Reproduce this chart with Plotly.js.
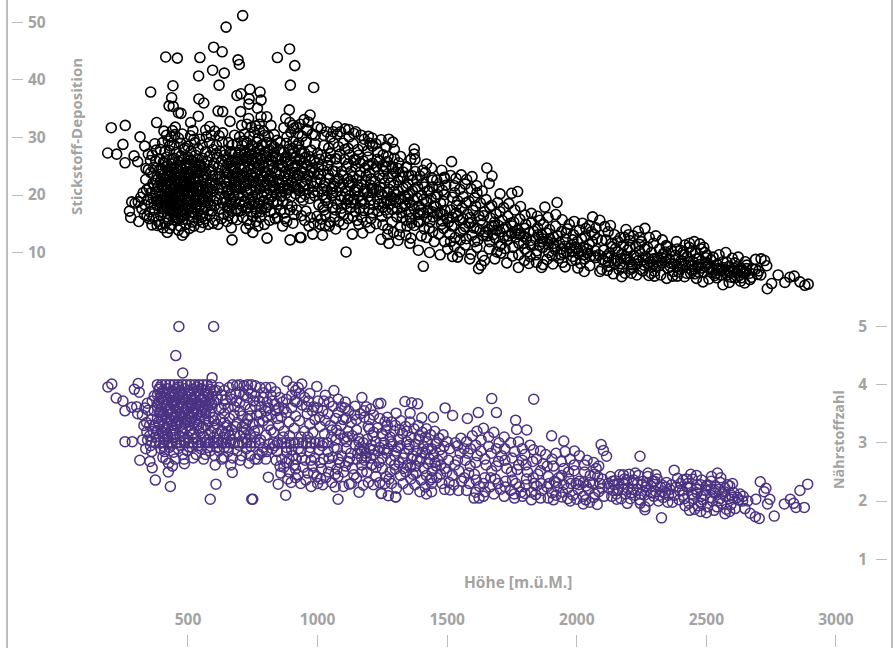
<!DOCTYPE html>
<html><head><meta charset="utf-8">
<script src="https://cdn.plot.ly/plotly-3.0.1.min.js"></script>
<style>html,body{margin:0;padding:0;background:#fff}</style></head>
<body><div id="chart" style="width:896px;height:648px"></div>
<script>
const depositionTicks=[10,20,30,40,50];
const nutrientTicks=[1,2,3,4,5];
const heightTicks=[500,1000,1500,2000,2500,3000];
const nitrogenOutliers=[[711,51.2],[647,49.2],[599,45.7],[632,44.9],[414,44],[459,43.8],[546,43.9],[693,43.5],[698,42.7],[845,43.9],[892,45.4],[912,42.5],[595,41.7],[640,41.2],[541,40.7],[442,39],[620,39.1],[895,39.1],[356,37.9],[689,37.3],[704,37.6],[739,38.4],[778,37.9],[782,36.5],[736,36.7],[735,35.8],[437,36.9],[542,36.7],[561,36],[427,35.5],[443,35.4],[463,34.3],[473,34.2],[616,34.6],[634,34.5],[703,34.5],[891,34.8],[662,32.8],[540,33.7],[734,33.3],[804,33.6],[379,32.6],[510,32.6],[204,31.7],[258,32.1],[315,30.1],[249,28.8],[333,28.5],[190,27.3],[225,27.1],[292,26.8],[257,25.6],[306,25.8],[377,27.8],[337,22.7],[350,21.2],[283,18.8],[296,18.6],[308,18.8],[274,17.2],[279,16.1],[310,15.4],[361,14.8],[420,13.5],[478,13],[486,13.5],[463,13.9],[667,14.3],[670,12.2],[750,13.5],[805,12.5],[894,12.2],[932,12.6],[875,15.9],[985,38.7],[971,33.9],[964,32.7],[1147,31],[1106,31.5],[1089,31],[1035,31],[1202,29],[1245,29.6],[1275,29.7],[1373,28],[1373,27.1],[1376,26.2],[1517,25.8],[1479,24.3],[1344,24.8],[1653,24.7],[1673,23.3],[1662,22],[1704,20.2],[1772,20.6],[1749,20.3],[1877,17.9],[1924,18.7],[1919,16.6],[1800,16.5],[1783,18],[1110,10.1],[1408,7.6],[1621,7.2],[1631,7.8],[1775,7.4],[1864,7.4],[2029,6.7],[936,12.6],[1019,13],[981,13.2],[1070,14.1],[1134,13.2],[1174,13.4],[1245,12.3],[1275,11.6],[1389,10.4],[1432,10],[1473,9.6],[1521,9.3],[1450,11.9],[2061,16.2],[2089,15.6],[2190,14],[2169,12.6],[2263,14.2],[2237,13.7],[2347,11],[2453,11.9],[2417,11.3],[2575,10],[2495,10],[2690,8.8],[2711,8.9],[2733,7.7],[2777,6.1],[2839,5.9],[2893,4.5],[2880,4.3],[2735,3.7],[2752,4.6],[2803,4.8],[2822,5.7],[2861,4.9],[2089,6.7],[2173,5.8],[2347,5.5],[2487,4.9],[2564,4.4],[2648,4.7]];
const nitrogenBlob=[[385,15.4],[412,15.1],[437,14.8],[455,15.6],[492,14.9],[516,15.3],[541,15.6],[567,15.9],[395,16.4],[421,16.2],[448,16.6],[473,16.1],[503,16.4],[528,16.7],[556,16.3],[585,16.6],[372,17.4],[401,17.6],[431,17.2],[461,17.7],[483,17.3],[512,17.6],[537,17.2],[566,17.8],[594,17.3],[622,17.6],[357,18.4],[382,18.2],[409,18.6],[438,18.3],[466,18.7],[495,18.2],[521,18.6],[548,18.3],[577,18.7],[604,18.2],[633,18.6],[366,19.4],[392,19.2],[419,19.6],[447,19.3],[474,19.7],[503,19.2],[532,19.6],[559,19.3],[586,19.7],[612,19.2],[641,19.5],[375,20.4],[401,20.2],[428,20.6],[456,20.3],[484,20.7],[512,20.2],[540,20.6],[568,20.3],[595,20.7],[623,20.2],[384,21.4],[410,21.2],[437,21.6],[465,21.3],[493,21.7],[521,21.2],[549,21.6],[577,21.3],[605,21.7],[633,21.2],[394,22.4],[420,22.2],[447,22.6],[474,22.3],[502,22.7],[530,22.2],[558,22.6],[586,22.3],[614,22.7],[640,22.3],[404,23.4],[431,23.2],[458,23.6],[485,23.3],[512,23.7],[539,23.2],[567,23.6],[595,23.3],[622,23.7],[398,24.5],[425,24.3],[452,24.7],[480,24.4],[507,24.8],[534,24.3],[561,24.7],[589,24.4],[616,24.8],[643,24.3],[408,25.5],[436,25.4],[463,25.8],[491,25.5],[518,25.9],[546,25.4],[574,25.8],[601,25.5],[629,25.9],[418,26.6],[446,26.4],[473,26.8],[501,26.5],[529,26.9],[556,26.4],[584,26.8],[612,26.5],[640,26.9],[429,27.7],[456,27.4],[484,27.9],[512,27.6],[540,28],[568,27.5],[596,27.9],[624,27.6],[446,28.7],[472,29],[499,28.5],[527,29.1],[555,28.7],[583,29.1],[610,28.6],[632,29.2],[435,30.1],[449,30.5],[463,29.9],[478,30.6],[510,30.3],[523,29.7],[590,30.4],[603,31.1],[620,30.3],[634,30.8],[440,31.2],[451,31.8],[568,31.3],[584,31.9],[356,23.9],[367,24.8],[376,25.9],[381,23.2],[391,26.2],[345,19.2],[333,18.3],[352,17.1],[342,16.4],[367,16.1],[381,14.7],[404,14.3],[430,14.2],[523,14.6],[549,14.4],[579,14.9],[604,15.6],[630,15.9],[616,14.9],[650,15.4],[355,26],[362,26.9],[411,27.6],[402,29.1],[424,29.4],[417,30.4],[430,28.6],[490,16.9],[470,19.1],[515,21.9],[440,20.1],[545,19.1],[465,22.9],[500,24],[430,18.9],[460,16.9],[530,17.9],[480,20.9],[420,20.9],[495,21.1],[450,18.1],[510,19],[470,23.6],[440,22.9],[525,23],[555,20.9],[455,24.9]];
const nitrogenBlobDense=[[443,16.9],[507,18.9],[417,17.9],[476,21.3],[533,20.9],[398,19.8],[459,20.7],[521,16.1],[488,23.1],[431,21.9],[563,18.8],[406,22.8],[497,19.9],[452,17.3],[541,22.9],[418,19.2],[473,17.1],[586,21],[436,24],[509,22.4],[388,20.8],[462,19.4],[527,19.2],[445,21.2],[571,22.1],[403,17.1],[481,18.4],[552,17.6],[425,23.7],[499,17.7],[517,24.4],[441,19.6],[469,25.1],[543,21.1],[393,18.7],[486,22.2],[575,19.8],[411,20.6],[457,23.1],[531,24.9],[422,16.8],[505,21.5],[449,22.1],[561,23.2],[478,16.6],[413,24.9],[535,18.4],[396,23.6],[493,25],[467,18.2],[599,19],[433,19.7],[549,25.1],[514,20.6],[384,18.9],[454,21.8],[583,24.1],[427,22.7],[489,19.4],[523,22.6],[407,19.1],[476,24.5],[557,19.6],[442,25.6],[501,20.4],[369,21.6],[537,19.9],[461,15.9],[416,18.2],[593,22],[483,21.9],[448,23.9],[526,25.6],[401,21.4],[468,20.1],[605,23.4],[434,17.6],[512,18.1],[579,17.3],[453,19.9],[491,23.9],[423,25.1],[545,23.9],[377,19.3],[506,25.4],[464,24.2],[437,18.6],[569,21.4],[415,21.7],[519,17.1],[481,15.8],[391,24.4],[553,24.2],[446,20.9],[496,22.9],[617,21.2],[428,17.4],[472,22.5],[534,21.6],[405,25.7],[458,18.7],[589,18.2],[511,23.1],[440,26.2],[486,26.3],[564,25.4],[378,22.6],[524,20.1],[451,16.1],[419,23.4],[500,18.5],[548,16.6],[474,26],[625,23.2],[394,17.9],[537,26.1],[463,21.1],[598,25],[432,20.4],[510,26.1],[574,20.6],[655,20.8],[649,23.1],[660,25.6],[644,27.7],[652,18.1],[638,16.7],[365,22.1],[347,24.4],[358,20.4],[340,20.9],[372,28.9],[394,27.9],[407,31.1],[488,28.2],[519,31.2],[545,29.7],[571,30.1],[609,27.2],[657,29.1],[425,15.6],[469,14.6],[506,14.2],[559,15.2],[597,15.1],[392,14.9],[350,15.9],[332,16.6],[322,17.6],[318,19.6],[327,20.4],[338,24.6],[347,27.1]];
const nitrogenWest=[[655,16.4],[672,15.9],[690,15.7],[712,16.1],[730,15.6],[751,16.3],[763,15.4],[778,16.1],[652,17.7],[668,17.2],[687,17.6],[705,17.3],[724,17.7],[743,17.1],[760,17.6],[781,17.1],[799,17.8],[817,17.1],[833,16.9],[845,16.1],[858,17.4],[872,16.9],[648,18.9],[664,18.6],[682,18.9],[699,18.5],[718,19],[737,18.4],[755,18.9],[773,18.5],[792,19],[810,18.4],[828,18.8],[846,18.4],[865,18.9],[884,18.4],[901,18],[920,17.4],[938,16.4],[955,17.2],[972,16.1],[658,20.1],[677,19.7],[695,20.2],[713,19.8],[731,20.3],[749,19.7],[768,20.2],[786,19.8],[805,20.3],[823,19.7],[841,20.2],[860,19.8],[878,20.3],[897,19.7],[915,20.2],[934,19.6],[952,20.1],[970,19.4],[988,19.9],[650,21.4],[668,21],[686,21.5],[705,21.1],[723,21.6],[741,21],[760,21.5],[779,21.1],[797,21.6],[816,21],[835,21.5],[853,21.1],[872,21.6],[890,21],[909,21.5],[927,21],[946,21.5],[964,21],[983,21.5],[660,22.6],[678,22.2],[697,22.7],[715,22.3],[734,22.8],[752,22.2],[771,22.7],[790,22.3],[808,22.8],[827,22.2],[846,22.7],[864,22.3],[883,22.8],[902,22.2],[920,22.7],[939,22.2],[957,22.7],[976,22.2],[652,23.8],[670,23.4],[689,23.9],[707,23.5],[726,24],[744,23.4],[763,23.9],[782,23.5],[800,24],[819,23.4],[838,23.9],[856,23.5],[875,24],[893,23.4],[912,23.9],[930,23.4],[949,23.9],[967,23.4],[986,23.9],[662,25],[681,24.7],[699,25.2],[718,24.8],[736,25.3],[755,24.7],[774,25.2],[792,24.8],[811,25.3],[830,24.7],[848,25.2],[867,24.8],[885,25.3],[904,24.7],[923,25.2],[941,24.7],[960,25.2],[979,24.7],[654,26.2],[673,26],[691,26.5],[710,26.1],[728,26.6],[747,26],[766,26.5],[784,26.1],[803,26.6],[822,26],[840,26.5],[859,26.1],[877,26.6],[896,26],[914,26.5],[933,26],[952,26.5],[970,26],[664,27.5],[683,27.3],[701,27.8],[720,27.4],[739,27.9],[757,27.3],[776,27.8],[795,27.4],[814,27.9],[833,27.3],[852,27.8],[871,27.4],[890,27.9],[910,27.3],[930,27.8],[950,27.3],[975,27.8],[672,28.7],[690,29],[709,28.6],[728,29.1],[746,28.6],[765,29.2],[784,28.6],[803,29.1],[822,28.7],[856,29.1],[880,29],[905,29.3],[927,29],[956,29.2],[990,28.9],[680,30.4],[699,30.1],[718,30.6],[737,30.2],[756,30.9],[775,31.3],[791,31.1],[810,30.2],[833,30.5],[882,30.1],[897,30.9],[909,31.6],[925,30.7],[941,30.2],[958,31.4],[980,30.6],[1000,31.8],[707,32.1],[728,32.3],[745,31.8],[760,32],[775,32.3],[905,32.1],[918,31.8],[933,32.3],[960,31.2]];
const nitrogenWestDense=[[703,23.1],[761,25.6],[818,22.4],[674,24.6],[732,19.4],[849,26.3],[791,23.2],[684,20.9],[907,23.1],[746,27.1],[825,25.9],[669,27.2],[774,18.1],[881,25.8],[719,21.9],[941,24.1],[797,26.9],[663,19.3],[837,20.9],[755,23.1],[694,26.9],[871,23.2],[803,17.9],[727,25.9],[918,21.4],[781,22.6],[654,25.4],[842,24.1],[709,18.1],[962,23.4],[768,28.2],[896,27.1],[679,21.7],[815,24.4],[737,22.4],[859,20.6],[788,25.6],[658,22.3],[929,26.2],[701,24.6],[832,28.4],[748,18.4],[888,23.7],[773,24.3],[988,25.9],[692,23.3],[805,21.9],[720,27.1],[944,19.1],[858,27.7],[763,20.9],[681,26],[823,23.1],[912,25.1],[733,26.6],[792,20.4],[973,24.1],[651,20.4],[866,21.1],[743,24.6],[903,28.1],[697,21.4],[838,26.7],[778,26.4],[951,21.9],[714,23.1],[884,20.9],[760,22.1],[997,22.3],[671,18.3],[809,27.7],[922,23.4],[726,20.6],[851,22.1],[785,17.6],[940,27.2],[689,25.7],[875,26.4],[750,26.2],[1000,27.2],[659,23.6],[828,21.4],[716,29.4],[899,22.2],[796,24.1],[968,26.7],[740,19.1],[843,18.9],[678,22.9],[931,20.7],[772,29.9],[860,25.1],[704,27.3],[982,20.4],[812,19.2],[753,28.4],[887,21.7],[667,25.9],[948,25.6],[826,26.6],[730,17.9],[893,17.4],[786,28.7],[844,29.5],[918,28.5],[1002,23.6],[764,16.9],[695,17.2],[836,15.9],[881,15.4],[910,16.6],[950,15.6],[985,15.1],[1010,14.9],[1030,14.7],[815,15.6],[738,14.9],[770,14.6],[795,14.9],[724,14.2],[865,14.6],[905,15.1],[967,14.6],[820,32.1],[782,33.6],[768,35.1],[795,30.4],[870,31.7],[893,32.6],[877,33.3],[948,33.1],[1014,31.6],[991,30.4]];
const nitrogenMiddle=[[998,16.3],[1014,15.8],[1031,16.5],[1049,15.3],[1066,16.2],[1083,15.4],[1101,16.6],[1118,15.9],[1136,16.3],[1153,15.6],[1171,16.1],[1188,15.3],[1206,15.9],[1226,15],[1252,14.8],[1271,14.1],[1293,13.5],[1316,13.1],[1341,13],[1360,12.5],[1005,18.3],[1021,17.9],[1040,18.6],[1058,17.8],[1075,18.4],[1092,17.7],[1110,18.5],[1128,17.8],[1145,18.4],[1163,17.7],[1180,18.5],[1198,17.6],[1216,18.3],[1235,17.2],[1252,17.9],[1270,16.9],[1288,17.5],[1306,16.2],[1324,16.9],[1342,15.6],[1358,15.9],[1374,14.7],[1393,15.3],[1412,14.1],[1431,14.2],[1002,20.6],[1019,20],[1037,20.8],[1055,19.9],[1072,20.6],[1090,19.8],[1107,20.7],[1125,19.9],[1143,20.6],[1160,19.8],[1178,20.6],[1195,19.7],[1213,20.4],[1231,19.3],[1248,20.1],[1266,19],[1284,19.7],[1302,18.7],[1320,19.3],[1337,18.1],[1355,18.7],[1373,17.6],[1391,18.1],[1409,16.9],[1427,17.4],[1445,16.2],[1463,16.8],[1481,15.5],[1499,15.9],[1011,22.7],[1028,22.1],[1046,22.9],[1064,22],[1081,22.8],[1098,21.9],[1116,22.8],[1134,22],[1151,22.7],[1169,21.8],[1187,22.6],[1204,21.7],[1222,22.4],[1240,21.4],[1258,22.1],[1276,21],[1294,21.7],[1312,20.6],[1330,21.2],[1348,20],[1366,20.7],[1384,19.5],[1402,20],[1420,18.8],[1438,19.4],[1456,18],[1474,18.6],[1492,17.3],[1004,24.9],[1022,24.3],[1040,25.1],[1058,24.2],[1075,25],[1093,24.1],[1111,24.9],[1129,24.1],[1147,24.9],[1165,24],[1183,24.7],[1201,23.8],[1219,24.4],[1237,23.4],[1255,24.1],[1273,23],[1291,23.7],[1310,22.6],[1329,23.2],[1348,22],[1367,22.6],[1386,21.4],[1405,22],[1424,20.7],[1443,21.4],[1462,20.1],[1482,20.8],[1014,27],[1032,26.5],[1050,27.2],[1068,26.3],[1086,27.1],[1104,26.2],[1122,27],[1140,26.1],[1158,26.9],[1176,25.9],[1194,26.6],[1212,25.5],[1231,26.2],[1250,25.1],[1269,25.8],[1289,24.9],[1310,24.6],[1330,24],[1352,23.4],[1395,23.3],[1416,23.9],[1440,23],[1460,22.6],[1024,28.6],[1043,28.2],[1062,29],[1080,28.4],[1099,29],[1118,28.1],[1137,28.9],[1156,27.9],[1175,28.6],[1194,27.7],[1212,28.5],[1232,27.5],[1253,27],[1272,26.7],[1296,26.4],[1024,30.4],[1051,30.1],[1060,31],[1076,30.6],[1122,30.1],[1140,30.7],[1180,29.7],[1210,29.9],[1296,27.9]];
const nitrogenMiddleDense=[[1098,23.4],[1216,21.1],[1034,19.6],[1147,17.1],[1263,24.9],[1342,21.4],[1073,26.3],[1188,23.4],[1295,19.4],[1409,19.2],[1125,21.6],[1012,23.6],[1237,18.4],[1352,17.1],[1449,18.1],[1164,25.6],[1056,21.1],[1281,22.1],[1383,22.6],[1090,16.9],[1204,19.1],[1320,23.1],[1472,16.9],[1025,17.4],[1137,23.2],[1250,22.9],[1371,19.1],[1431,20.7],[1183,21],[1308,17.6],[1067,24.1],[1396,16.8],[1117,19.2],[1226,24.9],[1336,19.9],[1486,18.9],[1008,26.2],[1155,21.4],[1270,20.4],[1363,23.4],[1084,21.4],[1212,16.9],[1327,16.1],[1445,22.6],[1041,23.6],[1172,19.1],[1288,24.6],[1413,21.4],[1105,27.9],[1239,25.9],[1355,20.2],[1489,20.1],[1023,21.6],[1147,26.1],[1262,17.4],[1387,15.4],[1069,17.4],[1195,25.2],[1302,23.9],[1457,19.6],[1129,18.7],[1248,16.3],[1377,24.1],[1049,26.1],[1161,23.4],[1294,20.6],[1420,16.1],[1088,19.1],[1207,22.8],[1342,24.9],[1119,25.4],[1226,20.9],[1362,15.1],[1017,25.3],[1178,17.3],[1279,18.4],[1406,24.3],[1059,20.4],[1140,19.2],[1313,25.6],[1468,21.4],[1100,14.9],[1159,14.9],[1202,14.3],[1287,15.3],[1320,14.4],[1345,14.6],[1400,12.9],[1421,12.6],[1444,13.6],[1467,13.2],[1490,11.9],[1486,14.2],[1356,11.6],[1310,12.1],[1270,13.1],[1045,14.6],[1225,28.9],[1265,28.4],[1320,26.7],[1360,26.2],[1420,25.4],[1440,24.7],[1490,22.9],[1290,29.2],[1168,30.4],[1196,30.2],[1120,31.4],[1075,31.9]];
const nitrogenEast=[[1502,10.6],[1528,11.1],[1549,10.1],[1570,11.3],[1592,9.7],[1615,10.9],[1636,9.4],[1662,10.6],[1684,8.9],[1707,9.9],[1730,8.2],[1752,9.4],[1798,8.6],[1820,9.3],[1844,8.3],[1885,8.8],[1908,8],[1931,9],[1955,7.5],[1980,8.6],[2004,7.3],[1510,13.2],[1531,12.6],[1552,13.5],[1574,12.4],[1596,13],[1618,12.1],[1640,12.9],[1664,11.9],[1686,12.5],[1709,11.4],[1731,12.1],[1754,10.9],[1777,11.6],[1800,10.6],[1823,11.3],[1846,10.3],[1869,10.9],[1892,10],[1915,10.6],[1938,9.6],[1961,10.2],[1984,9.3],[2007,9.9],[2030,8.9],[2053,9.4],[1505,15.3],[1527,14.7],[1548,15.6],[1570,14.5],[1592,15.2],[1614,14.2],[1636,15],[1659,14],[1681,14.7],[1704,13.6],[1726,14.4],[1749,13.3],[1772,13.9],[1795,12.8],[1818,13.5],[1841,12.4],[1864,13.1],[1887,12],[1910,12.7],[1933,11.7],[1956,12.3],[1979,11.3],[2002,11.9],[2025,10.9],[2048,11.4],[2071,10.3],[1513,17.4],[1535,16.9],[1556,17.7],[1578,16.7],[1600,17.3],[1622,16.4],[1644,17.1],[1667,16],[1689,16.7],[1712,15.6],[1734,16.3],[1757,15.3],[1780,15.8],[1803,14.9],[1826,15.3],[1849,14.3],[1872,14.9],[1895,14],[1918,14.6],[1941,13.6],[1964,14.1],[1987,13.1],[2010,13.9],[2033,12.8],[2056,13.6],[2079,12.4],[1520,19.6],[1541,19],[1562,19.7],[1584,18.9],[1606,19.5],[1628,18.6],[1650,19.2],[1672,18.2],[1695,18.7],[1718,17.8],[1738,18.5],[1761,17.4],[1825,16.8],[1848,16.3],[1889,16.1],[1944,15.7],[1990,15.4],[2022,15.1],[2048,14.7],[2074,14.3],[1528,21.6],[1549,21],[1570,21.9],[1592,21.1],[1614,21.6],[1635,20.7],[1513,23.4],[1534,22.9],[1554,23.5],[1575,22.7],[1596,23.2],[1495,21.7],[1489,23.1]];
const nitrogenEastDense=[[1563,14.1],[1677,13.1],[1795,11.6],[1912,11.1],[2019,10.3],[1521,16.1],[1640,16.4],[1752,14.6],[1868,12.4],[1985,12.2],[1606,11.9],[1717,12.6],[1834,13.7],[1950,9.9],[2060,11.9],[1536,18.2],[1655,12.9],[1766,12.7],[1883,13.4],[1999,10.6],[1589,16.1],[1698,14.7],[1809,10.1],[1927,12.9],[2041,10.6],[1513,11.9],[1627,13.9],[1745,15.1],[1856,11.3],[1973,10.8],[1572,18.6],[1683,15.3],[1800,14.2],[1905,9.4],[2018,12.4],[1551,12.2],[1664,17.9],[1723,10.7],[1843,9.6],[1959,13.4],[2068,9.4],[1610,18.1],[1703,11.1],[1776,9.6],[1890,11.4],[1996,8.7],[1540,9.2],[1587,8.9],[1644,8.6],[1692,10.1],[1815,8.1],[1870,7.9],[1945,8.3],[2015,8.1],[2050,7.7],[1529,20.4],[1615,20.4],[1704,17.1],[1781,13.1],[1858,15.6],[1971,14.9],[2035,14.2],[2068,13.1]];
const nitrogenBandCentre=[[1018,21.1],[1062,21.6],[1104,19.6],[1150,20.9],[1192,20.4],[1238,20.6],[1281,19.1],[1327,17.9],[1365,18.2],[1398,17.4],[1442,17.1],[1486,16.6],[1031,19.1],[1076,22.4],[1121,22.3],[1166,18.9],[1209,21.1],[1256,18.7],[1302,20.1],[1349,19.3],[1388,16.6],[1434,15.4],[1478,14.9],[1518,14.6],[1561,15.9],[1603,14.3],[1648,13.6],[1691,13.9],[1736,12.9],[1779,13.3],[1822,12.1],[1867,11.9],[1911,11.6],[1954,11.1],[1996,10.9],[2041,9.9],[2085,9.6],[2122,9.1],[2169,8.9],[2207,8.4],[2256,8.7],[2295,7.9],[2342,8.4],[2388,7.6],[2431,8.4],[2472,7.9],[2519,7.4],[2563,7.1],[2604,6.9],[2646,6.4],[1541,16.4],[1583,15.1],[1629,15.6],[1672,14.6],[1718,14.1],[1762,13.4],[1806,12.4],[1851,13.1],[1896,12.4],[1940,10.6],[1982,10.1],[2026,9.6],[2072,9.1],[2110,8.4],[2148,8.1],[2194,9.1],[2232,8],[2276,8.9],[2318,8.6],[2364,8.1],[2409,7.6],[2454,7.1],[2497,7.6],[2541,6.9],[2587,6.6],[2629,6.9]];
const nitrogenFarEast=[[2096,7.1],[2118,6.9],[2141,6.3],[2163,7],[2186,6.4],[2209,7.1],[2232,6.1],[2255,6.8],[2278,6],[2301,6.7],[2324,6.1],[2370,5.9],[2393,6.6],[2416,5.8],[2439,6.4],[2462,5.5],[2510,5.4],[2533,6],[2588,4.8],[2610,5.6],[2632,5],[2668,5.3],[2100,8.8],[2122,8.3],[2145,9],[2168,8.1],[2191,8.8],[2214,7.9],[2237,8.6],[2260,7.8],[2283,8.4],[2306,7.6],[2329,8.2],[2352,7.3],[2375,8],[2398,7.1],[2421,7.8],[2444,6.9],[2467,7.5],[2490,6.6],[2513,7.2],[2536,6.4],[2559,6.9],[2582,6.1],[2605,6.7],[2628,6],[2651,6.5],[2674,5.7],[2697,6.2],[2104,10.4],[2127,9.9],[2150,10.7],[2173,9.7],[2196,10.4],[2219,9.5],[2242,10.2],[2265,9.3],[2288,10],[2311,9.1],[2334,9.8],[2357,8.9],[2380,9.5],[2403,8.6],[2426,9.3],[2449,8.4],[2472,9],[2495,8.1],[2518,8.7],[2541,7.9],[2564,8.4],[2587,7.6],[2610,8.2],[2633,7.3],[2656,7.8],[2679,7.1],[2702,6.8],[2112,12.2],[2135,11.6],[2158,12],[2181,11.3],[2204,12.1],[2227,11.1],[2250,11.9],[2273,10.9],[2296,11.6],[2319,10.6],[2342,10.1],[2365,10.3],[2388,10.6],[2411,10.1],[2434,10.9],[2457,9.9],[2480,10.6],[2503,9.5],[2526,9.2],[2549,9.6],[2600,9],[2623,9.2],[2650,8.4],[2121,13.6],[2145,13.1],[2200,13.1],[2218,12.9],[2243,12.6],[2280,12.6],[2305,12.9],[2330,12.2],[2385,11.9],[2435,11.6],[2475,11.5],[2108,14.5],[2130,14.7]];
const nitrogenFarEastDense=[[2153,8.6],[2231,9.1],[2319,7.7],[2405,8.1],[2483,7.3],[2562,7.4],[2640,6.9],[2116,9.4],[2204,10.9],[2287,6.4],[2371,6.7],[2455,6.3],[2540,5.6],[2618,6.4],[2177,7.4],[2262,10.6],[2346,9.1],[2424,6.4],[2505,8.2],[2585,6.9],[2668,6.4],[2136,11],[2214,7.4],[2296,8.9],[2380,8.6],[2462,8.9],[2545,7.2],[2610,7.2],[2096,12.1],[2187,9.3],[2245,7.1],[2328,9.1],[2412,9.6],[2498,9.1],[2580,8.3],[2655,7.2],[2158,10.1],[2272,8.1],[2360,7.6],[2445,7.6],[2520,6.5],[2595,5.7],[2690,7.1],[2125,7.6],[2211,6.4],[2300,5.9],[2388,5.9],[2470,6.6],[2555,6.1],[2635,5.6],[2710,6.1],[2185,12.6],[2242,11.4],[2345,11.2],[2400,10.4],[2490,10.9],[2440,10.1],[2725,8.6]];
const nutrientOutliers=[[465,5],[599,5],[453,4.5],[480,4.2],[191,3.96],[206,4.01],[293,3.92],[308,4.02],[312,3.87],[223,3.77],[249,3.72],[257,3.55],[283,3.61],[302,3.62],[306,3.5],[343,3.68],[341,3.19],[257,3.02],[285,3.02],[314,2.7],[360,2.85],[353,2.68],[362,2.57],[374,2.36],[432,2.25],[424,2.5],[486,2.64],[608,2.29],[586,2.03],[746,2.03],[750,2.03],[671,2.49],[810,2.41],[848,2.29],[877,2.1],[858,2.48],[975,2.25],[1068,2.24],[1079,2.03],[1079,2.42],[1122,2.29],[1176,2.27],[1196,2.32],[1245,2.13],[1273,2.09],[1302,2.07],[881,4.06],[939,4.01],[997,3.97],[1063,3.9],[1171,3.78],[1234,3.67],[1188,3.62],[1107,3.7],[1145,3.63],[593,4.12],[1672,3.76],[1834,3.75],[1690,3.52],[1492,3.6],[1521,3.47],[1620,3.52],[1578,3.42],[1764,3.39],[1768,3.23],[1807,3.22],[1903,3.12],[1950,3.03],[1775,3.02],[1631,3.05],[2094,2.97],[2103,2.87],[2115,2.77],[1991,2.86],[1955,2.85],[1820,2.96],[1833,2.88],[1337,3.71],[1363,3.69],[1386,3.67],[1357,3.51],[1402,3.43],[1447,3.44],[1269,3.44],[1303,3.51],[1244,3.68],[1604,2.05],[1623,2.05],[1890,2.05],[1440,2.16],[1301,2.07],[1247,2.13],[2025,1.95],[2079,1.94],[2154,2.03],[1646,2.16],[1508,2.32],[1543,2.18],[1511,2.19],[1759,2.12],[1800,2.13],[1842,2.11],[1942,2.07],[2891,2.29],[2861,2.18],[2824,2.03],[2801,1.95],[2837,1.96],[2846,1.89],[2878,1.89],[2762,1.74],[2704,1.7],[2689,1.73],[2669,1.79],[2708,2.33],[2730,2.22],[2723,2.16],[2745,2.03],[2736,1.95],[2691,2.03],[2611,1.87],[2649,1.87],[2601,2.3],[2543,2.48],[2462,2.44],[2376,2.53],[2389,2.39],[2244,2.77],[2327,1.71],[2263,1.85],[2263,1.9],[2305,2.45]];
const nutrientBlock=[[382,4],[398,4],[414,4],[430,4],[446,4],[462,4],[478,4],[494,4],[510,4],[526,4],[542,4],[558,4],[574,4],[590,4],[388,3.92],[404,3.9],[421,3.93],[438,3.9],[454,3.92],[471,3.9],[487,3.93],[503,3.9],[520,3.92],[536,3.9],[552,3.93],[568,3.9],[585,3.92],[598,3.9],[382,3.82],[398,3.8],[414,3.83],[431,3.8],[447,3.82],[463,3.8],[479,3.83],[496,3.8],[512,3.82],[528,3.8],[544,3.83],[560,3.8],[576,3.82],[592,3.8],[389,3.72],[405,3.7],[422,3.73],[438,3.7],[454,3.72],[470,3.7],[487,3.73],[503,3.7],[519,3.72],[535,3.7],[552,3.73],[568,3.7],[584,3.72],[600,3.7],[382,3.62],[398,3.6],[414,3.63],[431,3.6],[447,3.62],[463,3.6],[479,3.63],[496,3.6],[512,3.62],[528,3.6],[544,3.63],[560,3.6],[576,3.62],[592,3.6],[389,3.52],[405,3.5],[422,3.53],[438,3.5],[454,3.52],[470,3.5],[487,3.53],[503,3.5],[519,3.52],[535,3.5],[552,3.53],[568,3.5],[584,3.52],[382,3.42],[398,3.4],[414,3.43],[431,3.4],[447,3.42],[463,3.4],[479,3.43],[496,3.4],[512,3.42],[528,3.4],[544,3.42],[568,3.41],[600,3.38],[389,3.31],[405,3.3],[422,3.33],[438,3.3],[454,3.32],[470,3.3],[487,3.33],[503,3.29],[535,3.31],[570,3.3],[610,3.32],[382,3.21],[398,3.2],[414,3.22],[431,3.19],[447,3.21],[479,3.2],[510,3.21],[543,3.2],[589,3.19],[630,3.21],[389,3.11],[405,3.1],[422,3.12],[447,3.09],[470,3.11],[500,3.1],[530,3.09],[560,3.11],[600,3.1],[638,3.09],[375,3],[391,3],[407,3],[423,3],[439,3],[455,3],[471,3],[487,3],[503,3],[519,3],[535,3],[551,3],[567,3],[583,3],[599,3],[615,3],[631,3],[647,3],[663,3],[679,3],[695,3],[711,3],[727,3],[743,3],[759,3],[775,3],[360,3.4],[352,3.3],[346,3.56],[362,3.72],[370,3.81],[352,3.12],[358,3.02],[344,3.05],[366,3.2]];
const nutrientBlockDense=[[391,3.95],[427,3.86],[463,3.96],[499,3.85],[534,3.96],[572,3.85],[406,3.76],[444,3.68],[482,3.77],[517,3.66],[555,3.76],[593,3.66],[385,3.67],[420,3.56],[458,3.66],[492,3.56],[530,3.67],[566,3.56],[402,3.46],[437,3.37],[474,3.46],[509,3.36],[546,3.47],[581,3.37],[386,3.36],[421,3.26],[457,3.36],[491,3.25],[525,3.36],[559,3.27],[596,3.44],[405,3.17],[441,3.14],[476,3.25],[515,3.14],[551,3.25],[584,3.14],[626,3.4],[376,3.1],[412,3.05],[451,3.15],[486,3.05],[521,3.17],[575,3.05],[613,3.16],[418,3.66],[469,3.84],[512,3.75],[548,3.66],[393,3.85],[435,3.78],[477,3.52],[523,3.5],[541,3.3],[395,3.52],[455,3.45],[505,3.45],[600,3.25],[618,3.05],[642,3.15],[656,3.2],[628,3.6],[614,3.75],[620,3.95],[640,3.9],[370,3.55],[372,3.3],[355,2.95],[340,3.35],[334,3.6],[324,3.48],[330,3.3],[325,3.05],[337,2.9]];
const nutrientWest=[[610,3.9],[630,3.82],[645,3.74],[658,3.95],[672,4],[688,3.99],[700,4],[716,3.98],[730,4],[745,4],[760,3.98],[778,3.95],[800,3.95],[820,3.95],[838,3.88],[655,3.6],[670,3.75],[685,3.84],[700,3.87],[715,3.82],[730,3.78],[745,3.85],[760,3.8],[775,3.72],[790,3.78],[805,3.7],[820,3.82],[835,3.66],[850,3.6],[865,3.7],[880,3.75],[900,3.82],[915,3.9],[930,3.85],[950,3.78],[965,3.72],[985,3.62],[620,3.58],[640,3.5],[660,3.42],[680,3.62],[700,3.55],[720,3.65],[740,3.58],[760,3.63],[780,3.5],[800,3.55],[820,3.48],[840,3.55],[860,3.45],[880,3.52],[900,3.6],[920,3.7],[940,3.65],[960,3.5],[980,3.55],[1000,3.6],[1020,3.55],[1040,3.5],[1060,3.63],[1080,3.52],[650,3.3],[670,3.22],[690,3.35],[710,3.28],[730,3.4],[750,3.32],[770,3.22],[790,3.38],[810,3.3],[830,3.18],[850,3.3],[870,3.2],[890,3.36],[910,3.25],[930,3.38],[950,3.2],[970,3.32],[990,3.4],[1010,3.28],[1030,3.38],[1050,3.3],[1070,3.42],[1090,3.3],[1110,3.42],[1130,3.35],[640,2.92],[660,3.12],[680,3.15],[700,3.12],[720,3.08],[740,3.14],[760,3.1],[780,3.05],[800,3.13],[815,2.98],[830,3],[846,3],[862,3],[878,3],[894,3],[910,3],[926,3],[942,3],[958,3],[974,3],[990,3],[1006,3],[1022,3],[1038,3],[1054,3.1],[1070,3.05],[1086,3.15],[1102,3.08],[1118,3.2],[1134,3.12],[1150,3.22],[395,2.9],[410,2.85],[428,2.92],[445,2.84],[462,2.9],[480,2.8],[498,2.86],[516,2.92],[532,2.8],[550,2.9],[568,2.8],[585,2.86],[603,2.78],[620,2.86],[638,2.75],[655,2.85],[672,2.74],[690,2.86],[707,2.78],[725,2.9],[740,2.78],[758,2.72],[775,2.8],[790,2.92],[803,2.85],[825,2.9],[845,2.85],[862,2.72],[880,2.84],[900,2.88],[918,2.72],[935,2.85],[952,2.7],[970,2.84],[988,2.74],[1005,2.88],[1023,2.72],[1040,2.85],[1058,2.75],[1076,2.9],[1093,2.78],[1110,2.9],[1128,2.82],[1146,2.96],[1163,2.9],[403,2.75],[425,2.65],[440,2.6],[870,2.58],[890,2.5],[908,2.62],[925,2.45],[945,2.58],[962,2.48],[980,2.6],[998,2.42],[1015,2.55],[1032,2.4],[1050,2.62],[1068,2.46],[1085,2.66],[1100,2.5],[1118,2.68],[1135,2.56],[1152,2.72],[1170,2.62],[1188,2.76],[898,2.32],[915,2.4],[1000,2.3],[1020,2.28],[1100,2.25],[1150,2.4],[1190,2.5],[1210,2.62],[1225,2.42],[1240,2.32]];
const nutrientWestDense=[[688,3.72],[731,3.91],[664,3.83],[709,3.46],[752,3.72],[793,3.86],[678,3.48],[722,3.33],[766,3.48],[811,3.6],[854,3.78],[640,3.66],[699,3.69],[739,3.46],[783,3.62],[826,3.72],[871,3.58],[912,3.72],[958,3.62],[1002,3.72],[1045,3.7],[1092,3.62],[668,3.05],[714,3.18],[756,3.2],[803,3.44],[846,3.42],[892,3.12],[936,3.1],[982,3.18],[1027,3.15],[1073,3.22],[1115,3.1],[1158,3.08],[640,3.35],[682,3.28],[725,3.22],[775,3.36],[820,3.22],[868,3.1],[915,3.46],[962,3.1],[1008,3.44],[1056,3.22],[1099,3.4],[1142,3.48],[655,2.92],[697,2.96],[742,2.94],[786,2.84],[835,2.95],[880,2.92],[926,2.9],[972,2.92],[1018,2.95],[1064,2.92],[1112,3.02],[1155,2.82],[612,2.92],[575,2.92],[540,2.95],[505,2.93],[470,2.96],[435,2.96],[405,2.94],[630,2.72],[665,2.62],[702,2.7],[735,2.65],[768,2.72],[605,2.62],[560,2.72],[520,2.74],[485,2.72],[450,2.72],[415,2.72],[800,2.72],[840,2.7],[855,2.6],[890,2.72],[905,2.78],[940,2.74],[975,2.7],[1010,2.66],[1044,2.73],[1080,2.72],[1124,2.74],[1170,2.74],[1180,2.9],[1205,2.74],[1215,2.88],[880,2.66],[915,2.55],[935,2.3],[955,2.36],[985,2.48],[1012,2.38],[1042,2.5],[1075,2.55],[1108,2.6],[1140,2.45],[1172,2.5],[885,2.38],[1055,2.32],[1130,2.3],[1160,2.15],[1215,2.28],[1260,2.3],[1180,3.55],[1205,3.58],[1165,3.5],[1120,3.55],[1150,3.4],[1105,3.6],[1024,3.72],[1030,3.82],[970,3.85],[925,3.95],[905,3.96],[1080,3.75]];
const nutrientMiddle=[[1160,3.02],[1176,3],[1192,3.06],[1208,2.96],[1224,3.02],[1240,2.92],[1256,3],[1272,2.9],[1288,2.98],[1304,2.86],[1320,2.95],[1336,2.82],[1352,2.9],[1368,2.78],[1384,2.86],[1400,2.74],[1416,2.82],[1432,2.72],[1448,2.8],[1464,2.7],[1480,2.78],[1170,2.86],[1186,2.82],[1202,2.9],[1218,2.8],[1234,2.86],[1250,2.74],[1266,2.82],[1282,2.7],[1298,2.78],[1314,2.66],[1330,2.74],[1346,2.62],[1362,2.72],[1378,2.6],[1394,2.68],[1410,2.56],[1426,2.64],[1442,2.52],[1458,2.6],[1474,2.46],[1490,2.56],[1200,3.24],[1216,3.18],[1232,3.26],[1248,3.16],[1264,3.22],[1280,3.1],[1296,3.2],[1312,3.06],[1328,3.16],[1344,3.02],[1360,3.1],[1376,2.98],[1392,3.06],[1408,2.94],[1424,3.02],[1440,2.9],[1456,2.98],[1472,2.88],[1488,2.94],[1180,3.44],[1200,3.4],[1216,3.48],[1240,3.42],[1260,3.36],[1285,3.36],[1300,3.3],[1322,3.38],[1340,3.28],[1356,3.36],[1372,3.24],[1388,3.3],[1404,3.18],[1420,3.24],[1436,3.14],[1452,3.2],[1468,3.08],[1484,3.14],[1500,3.02],[1280,2.5],[1300,2.55],[1320,2.44],[1340,2.5],[1360,2.38],[1380,2.48],[1400,2.36],[1420,2.44],[1440,2.3],[1460,2.4],[1480,2.3],[1250,2.56],[1265,2.42],[1285,2.3],[1305,2.22],[1330,2.3],[1350,2.2],[1375,2.28],[1395,2.16],[1415,2.24],[1420,2.12],[1490,2.2],[1530,2.62],[1550,2.82],[1570,2.7],[1590,2.9],[1610,2.66],[1630,2.86],[1650,2.62],[1670,2.82],[1690,2.6],[1710,2.78],[1730,2.56],[1750,2.74],[1770,2.54],[1790,2.7],[1810,2.5],[1830,2.68],[1850,2.46],[1870,2.64],[1890,2.42],[1910,2.6],[1930,2.4],[1950,2.56],[1970,2.38],[1990,2.52],[2010,2.34],[2030,2.5],[2050,2.32],[2070,2.46],[2090,2.3],[1510,2.9],[1532,3],[1553,3.08],[1575,3.02],[1597,3.12],[1615,3.2],[1640,3.25],[1660,3.1],[1680,3.18],[1700,3],[1722,2.9],[1745,3],[1790,2.9],[1860,2.86],[1880,2.8],[1920,2.82],[1975,2.72],[2010,2.78],[2040,2.7],[2065,2.66],[2085,2.6],[1520,2.44],[1545,2.52],[1565,2.4],[1585,2.3],[1605,2.46],[1625,2.25],[1645,2.4],[1665,2.24],[1685,2.38],[1705,2.2],[1725,2.34],[1745,2.18],[1765,2.3],[1785,2.15],[1805,2.28],[1825,2.15],[1845,2.26],[1865,2.18],[1885,2.24],[1905,2.14],[1925,2.24],[1945,2.15],[1965,2.22],[1985,2.1],[2005,2.2],[2025,2.08],[2045,2.2],[2065,2.06],[2085,2.16],[2105,2.08],[1910,2.02],[1975,2],[2000,2.03],[2050,1.98],[2120,2.3],[2140,2.18]];
const nutrientMiddleDense=[[1213,3.12],[1283,3.02],[1353,2.97],[1426,2.9],[1237,2.66],[1310,2.92],[1384,2.72],[1453,2.66],[1181,2.7],[1258,2.88],[1331,2.56],[1405,2.84],[1475,2.62],[1195,3.28],[1269,3.3],[1345,3.2],[1416,3.1],[1226,2.58],[1297,2.62],[1368,2.46],[1441,2.4],[1498,2.5],[1252,3.12],[1318,3.22],[1392,3.12],[1460,3],[1208,2.62],[1276,2.38],[1358,2.58],[1434,2.36],[1505,2.7],[1540,2.7],[1565,2.9],[1589,2.6],[1616,2.78],[1645,2.72],[1672,2.52],[1698,2.68],[1723,2.7],[1748,2.5],[1776,2.62],[1804,2.62],[1832,2.4],[1860,2.52],[1886,2.6],[1914,2.34],[1942,2.44],[1968,2.5],[1997,2.3],[2026,2.32],[2052,2.44],[2081,2.42],[1526,2.28],[1556,2.34],[1583,2.48],[1612,2.36],[1640,2.3],[1668,2.4],[1696,2.3],[1724,2.24],[1752,2.36],[1778,2.24],[1806,2.38],[1835,2.3],[1862,2.3],[1893,2.3],[1921,2.32],[1950,2.28],[1978,2.3],[2007,2.28],[2036,2.26],[2062,2.3],[2098,2.22],[1575,2.18],[1610,2.15],[1640,2.08],[1680,2.12],[1720,2.08],[1760,2.05],[1790,2.08],[1825,2.02],[1860,2.05],[1920,2.1],[1965,2.04],[2035,2.02],[2070,2.12],[2098,2.38],[1540,2.95],[1580,2.82],[1610,2.96],[1660,2.94],[1690,2.9],[1720,3.1],[1760,2.85],[1800,2.8],[1845,2.72],[1905,2.72],[1940,2.68],[1990,2.62],[2030,2.62],[2075,2.56]];
const nutrientEast=[[2130,2.42],[2148,2.35],[2166,2.45],[2184,2.38],[2202,2.46],[2220,2.36],[2238,2.44],[2256,2.34],[2274,2.42],[2292,2.34],[2310,2.38],[2328,2.28],[2346,2.32],[2125,2.22],[2143,2.28],[2161,2.2],[2179,2.3],[2197,2.22],[2215,2.3],[2233,2.2],[2251,2.28],[2269,2.18],[2287,2.26],[2305,2.16],[2323,2.24],[2341,2.14],[2359,2.2],[2377,2.1],[2395,2.02],[2135,2.08],[2153,2.12],[2171,2.04],[2189,2.12],[2207,2.04],[2225,2.1],[2243,2.02],[2261,2.1],[2279,2],[2297,2.08],[2315,2],[2333,2.06],[2351,1.98],[2369,1.98],[2195,1.96],[2245,1.96],[2410,2.36],[2428,2.3],[2446,2.38],[2464,2.28],[2482,2.36],[2500,2.26],[2518,2.34],[2536,2.24],[2554,2.32],[2572,2.22],[2590,2.26],[2408,2.18],[2426,2.24],[2444,2.12],[2462,2.2],[2480,2.08],[2498,2.18],[2516,2.06],[2534,2.14],[2552,2.04],[2570,2.16],[2588,2.04],[2606,2.14],[2624,2.02],[2642,2.08],[2660,2],[2415,2.04],[2433,1.96],[2451,2.04],[2469,1.92],[2487,2.02],[2505,1.9],[2523,2],[2541,1.9],[2559,1.96],[2577,1.86],[2595,1.94],[2435,1.84],[2455,1.86],[2478,1.82],[2500,1.8],[2530,1.84],[2572,1.78],[2590,1.82]];
const nutrientEastDense=[[2163,2.3],[2218,2.2],[2272,2.3],[2330,2.16],[2384,2.24],[2438,2.24],[2493,2.1],[2548,2.2],[2600,2.06],[2138,2.34],[2192,2.36],[2246,2.12],[2300,2.34],[2354,2.1],[2410,2.1],[2464,2.14],[2518,2.2],[2574,2.08],[2630,2.12],[2156,2.18],[2210,2.14],[2266,2.24],[2320,2.1],[2366,2.28],[2422,2.38],[2478,2.28],[2530,2.14],[2582,2.28],[2620,2.06],[2178,2.2],[2234,2.3],[2288,2.14],[2342,2.24],[2396,2.18],[2450,2.1],[2505,2.28],[2560,2.12],[2640,2],[2180,2.45],[2226,2.48],[2275,2.48],[2400,2.3],[2440,2.46],[2520,2.42],[2556,2.4],[2480,1.96],[2545,2],[2418,1.92],[2595,2.1]];

const asX=p=>p.map(v=>v[0]), asY=p=>p.map(v=>v[1]);
const nitrogen=[...nitrogenOutliers,...nitrogenBlob,...nitrogenBlobDense,...nitrogenWest,...nitrogenWestDense,...nitrogenMiddle,...nitrogenMiddleDense,...nitrogenEast,...nitrogenEastDense,...nitrogenBandCentre,...nitrogenFarEast,...nitrogenFarEastDense];
const nutrient=[...nutrientOutliers,...nutrientBlock,...nutrientBlockDense,...nutrientWest,...nutrientWestDense,...nutrientMiddle,...nutrientMiddleDense,...nutrientEast,...nutrientEastDense];
const grey='#a3a3a3', fontFam='"Open Sans", Lato, sans-serif';
const tickFont={family:fontFam,size:15.5,color:grey,weight:700};
const titleFont=s=>({family:fontFam,size:s,color:grey,weight:700});
const traces=[
 {type:'scatter',mode:'markers',name:'Stickstoff-Deposition',x:asX(nitrogen),y:asY(nitrogen),xaxis:'x',yaxis:'y',
  marker:{symbol:'circle-open',size:10,color:'#000000',line:{width:1.6,color:'#000000'}}},
 {type:'scatter',mode:'markers',name:'Nährstoffzahl',x:asX(nutrient),y:asY(nutrient),xaxis:'x',yaxis:'y2',
  marker:{symbol:'circle-open',size:10,color:'#4b3282',line:{width:1.5,color:'#4b3282'}}}
];
const layout={
 width:896,height:648,margin:{l:12,r:9,t:0,b:1,pad:0},paper_bgcolor:'#fff',plot_bgcolor:'#fff',showlegend:false,
 xaxis:{range:[-179,3197],tickmode:'array',tickvals:heightTicks,ticktext:heightTicks.map(String),ticks:'inside',ticklen:12,tickwidth:1,tickcolor:'#bcbcbc',
   ticklabelposition:'inside',ticklabelstandoff:7,tickfont:tickFont,showgrid:false,zeroline:false,showline:false,automargin:false},
 yaxis:{range:[-58.6,53.91],tickmode:'array',tickvals:depositionTicks,ticktext:depositionTicks.map(String),ticks:'inside',ticklen:11,tickwidth:1,tickcolor:'#bcbcbc',
   ticklabelposition:'inside',ticklabelstandoff:5,tickfont:tickFont,showgrid:false,zeroline:false,showline:false,automargin:false},
 yaxis2:{range:[-0.51,10.613],overlaying:'y',side:'right',tickmode:'array',tickvals:nutrientTicks,ticktext:nutrientTicks.map(String),ticks:'inside',ticklen:11,tickwidth:1,tickcolor:'#bcbcbc',
   ticklabelposition:'inside',ticklabelstandoff:9,tickfont:tickFont,showgrid:false,zeroline:false,showline:false,automargin:false},
 shapes:[
  {type:'line',xref:'paper',yref:'paper',x0:-5/875,x1:-5/875,y0:-1,y1:1.01,line:{color:'#bdbdbd',width:2}},
  {type:'line',xref:'paper',yref:'paper',x0:880/875,x1:880/875,y0:-1,y1:1.01,line:{color:'#bdbdbd',width:2}}
 ],
 annotations:[
  {text:'Stickstoff-Deposition',xref:'paper',yref:'paper',x:64/875,y:1-137/647,textangle:-90,showarrow:false,font:titleFont(15),xanchor:'center',yanchor:'middle'},
  {text:'Nährstoffzahl',xref:'paper',yref:'paper',x:826/875,y:1-440/647,textangle:-90,showarrow:false,font:titleFont(14.3),xanchor:'center',yanchor:'middle'},
  {text:'Höhe [m.ü.M.]',xref:'paper',yref:'paper',x:506/875,y:1-582/647,showarrow:false,font:titleFont(15.5),xanchor:'center',yanchor:'middle'}
 ]
};
Plotly.newPlot('chart',traces,layout,{displayModeBar:false,staticPlot:true});
</script></body></html>
